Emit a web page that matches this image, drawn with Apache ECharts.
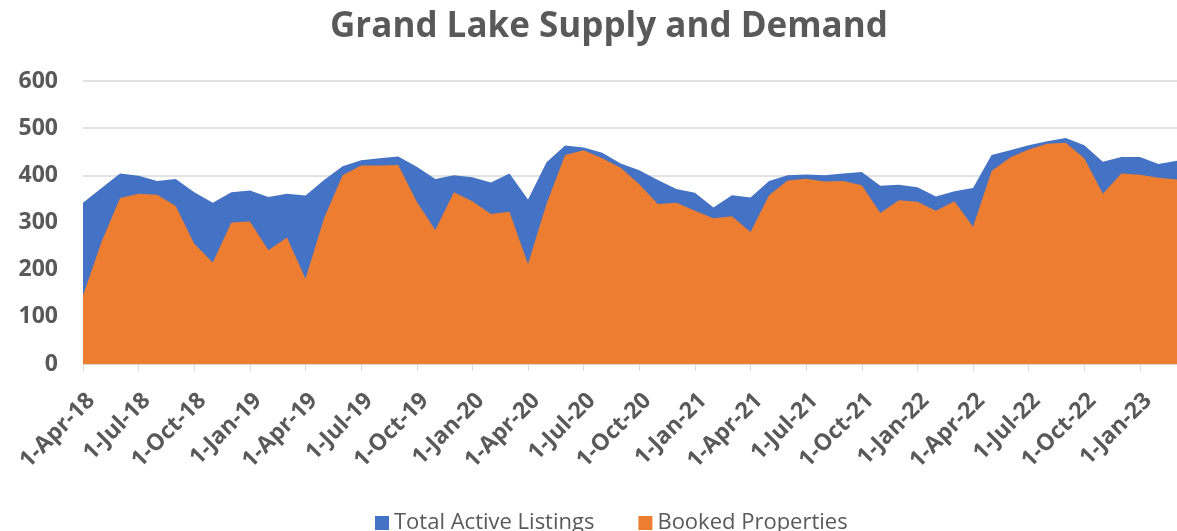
<!DOCTYPE html>
<html>
<head>
<meta charset="utf-8">
<title>Grand Lake Supply and Demand</title>
<script src="https://cdn.jsdelivr.net/npm/echarts@6/dist/echarts.min.js"></script>
<style>
  html, body { margin: 0; padding: 0; background: #fff; }
  #chart { width: 1177px; height: 531px; }
</style>
</head>
<body>
<!-- chart container -->
<div id="chart"></div>
<script>
// monthly data, 1-Apr-18 .. 1-Mar-23
const months = [
  '1-Apr-18', '1-May-18', '1-Jun-18', '1-Jul-18', '1-Aug-18', '1-Sep-18', '1-Oct-18', '1-Nov-18', '1-Dec-18',
  '1-Jan-19', '1-Feb-19', '1-Mar-19', '1-Apr-19', '1-May-19', '1-Jun-19', '1-Jul-19', '1-Aug-19', '1-Sep-19',
  '1-Oct-19', '1-Nov-19', '1-Dec-19', '1-Jan-20', '1-Feb-20', '1-Mar-20', '1-Apr-20', '1-May-20', '1-Jun-20',
  '1-Jul-20', '1-Aug-20', '1-Sep-20', '1-Oct-20', '1-Nov-20', '1-Dec-20', '1-Jan-21', '1-Feb-21', '1-Mar-21',
  '1-Apr-21', '1-May-21', '1-Jun-21', '1-Jul-21', '1-Aug-21', '1-Sep-21', '1-Oct-21', '1-Nov-21', '1-Dec-21',
  '1-Jan-22', '1-Feb-22', '1-Mar-22', '1-Apr-22', '1-May-22', '1-Jun-22', '1-Jul-22', '1-Aug-22', '1-Sep-22',
  '1-Oct-22', '1-Nov-22', '1-Dec-22', '1-Jan-23', '1-Feb-23', '1-Mar-23'
]

const totalActiveListings = [
  342, 373, 404, 399, 388, 392, 364, 342, 364,
  368, 354, 361, 357, 390, 419, 432, 436, 440,
  418, 392, 400, 396, 385, 404, 349, 428, 463,
  459, 448, 425, 411, 390, 371, 363, 332, 358,
  353, 388, 400, 402, 400, 404, 407, 378, 380,
  375, 355, 366, 373, 443, 453, 464, 472, 479,
  464, 429, 439, 439, 424, 431
]

const bookedProperties = [
  145, 259, 352, 361, 359, 335, 255, 215, 300,
  302, 241, 268, 181, 309, 400, 421, 421, 422,
  344, 284, 364, 345, 318, 323, 212, 340, 443,
  453, 436, 416, 381, 339, 342, 325, 309, 313,
  280, 358, 389, 393, 387, 388, 379, 320, 347,
  344, 325, 345, 291, 409, 438, 455, 467, 469,
  436, 361, 404, 401, 395, 391
]

const yTicks = { min: 0, max: 600, step: 100 }

const textGray = '#595959'
const gridGray = '#d9d9d9'
const font = '"Open Sans", "Noto Sans", sans-serif'

const chart = echarts.init(document.getElementById('chart'), null, { renderer: 'canvas' })

const option = {
  backgroundColor: '#fff',
  animation: false,
  title: {
    text: 'Grand Lake Supply and Demand',
    left: 325, // original chart is wider than the crop, so title sits right of centre
    top: 5,
    textStyle: { fontFamily: font, fontSize: 35, fontWeight: 'bold', color: textGray }
  },
  legend: {
    data: ['Total Active Listings', 'Booked Properties'],
    top: 507,
    left: 370,
    icon: 'rect',
    itemWidth: 14,
    itemHeight: 14,
    itemGap: 44,
    textStyle: { fontFamily: font, fontSize: 22, color: textGray }
  },
  // plot runs a couple of px past the right edge, like the cropped original
  grid: { left: 83, right: -2, top: 81, bottom: 167 },
  xAxis: {
    type: 'category',
    data: months,
    boundaryGap: false,
    axisLine: { lineStyle: { color: gridGray, width: 1 } },
    axisTick: { interval: 2, length: 7, lineStyle: { color: gridGray } },
    axisLabel: {
      interval: 2,
      rotate: 45,
      margin: 25,
      verticalAlign: 'top',
      fontFamily: font,
      fontSize: 23,
      fontWeight: 'bold',
      color: textGray
    },
    splitLine: { show: false }
  },
  yAxis: {
    type: 'value',
    min: yTicks.min,
    max: yTicks.max,
    interval: yTicks.step,
    axisLine: { show: false },
    axisTick: { show: false },
    axisLabel: { margin: 25, fontFamily: font, fontSize: 23, fontWeight: 'bold', color: textGray },
    splitLine: { lineStyle: { color: gridGray, width: 1.5 } }
  },
  series: [
    {
      name: 'Total Active Listings',
      type: 'line',
      data: totalActiveListings,
      showSymbol: false,
      lineStyle: { width: 0 },
      itemStyle: { color: '#4472c4' },
      areaStyle: { color: '#4472c4', opacity: 1 }
    },
    {
      name: 'Booked Properties',
      type: 'line',
      data: bookedProperties,
      showSymbol: false,
      lineStyle: { width: 0 },
      itemStyle: { color: '#ed7d31' },
      areaStyle: { color: '#ed7d31', opacity: 1 }
    }
  ]
}

chart.setOption(option)
</script>
</body>
</html>
